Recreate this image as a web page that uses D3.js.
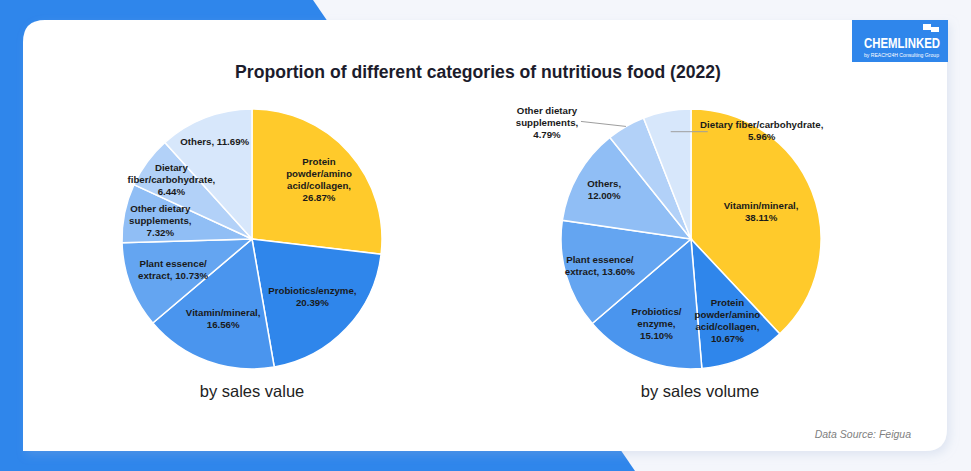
<!DOCTYPE html>
<html lang="en">
<head>
    <meta charset="UTF-8">
    <title>Nutritious food categories 2022</title>
    <script src="https://cdn.jsdelivr.net/npm/d3@7"></script>
    <style>
        body { margin: 0; background: #f4f6fb; }
        svg { display: block; font-family: "Liberation Sans", Arial, sans-serif; }
    </style>
</head>
<body>
<div id="chart"></div>

<script>
    // sales value pie (clockwise from 12 o'clock)
    var valueCategories = ['Protein powder/amino acid/collagen', 'Probiotics/enzyme', 'Vitamin/mineral',
        'Plant essence/extract', 'Other dietary supplements', 'Dietary fiber/carbohydrate', 'Others'];
    var valueShares = [26.87, 20.39, 16.56, 10.73, 7.32, 6.44, 11.69];
    var valueLabelLines = [
        ['Protein', 'powder/amino', 'acid/collagen,', '%v'],
        ['Probiotics/enzyme,', '%v'],
        ['Vitamin/mineral,', '%v'],
        ['Plant essence/', 'extract, %v'],
        ['Other dietary', 'supplements,', '%v'],
        ['Dietary', 'fiber/carbohydrate,', '%v'],
        ['Others, %v']
    ];

    // sales volume pie
    var volumeCategories = ['Vitamin/mineral', 'Protein powder/amino acid/collagen', 'Probiotics/enzyme',
        'Plant essence/extract', 'Others', 'Other dietary supplements', 'Dietary fiber/carbohydrate'];
    var volumeShares = [38.11, 10.67, 15.10, 13.60, 12.00, 4.79, 5.96];
    var volumeLabelLines = [
        ['Vitamin/mineral,', '%v'],
        ['Protein', 'powder/amino', 'acid/collagen,', '%v'],
        ['Probiotics/', 'enzyme,', '%v'],
        ['Plant essence/', 'extract, %v'],
        ['Others,', '%v'],
        ['Other dietary', 'supplements,', '%v'],
        ['Dietary fiber/carbohydrate,', '%v']
    ];

    // colours by slice order: yellow then blues getting lighter
    var sliceColors = ['#ffca2b', '#2f86eb', '#4a95ee', '#64a5f1', '#90bef5', '#b2d1f8', '#d7e7fb'];

    var width = 971, height = 471;
    var radius = 130;

    var svg = d3.select('#chart').append('svg')
        .attr('width', width)
        .attr('height', height);

    var defs = svg.append('defs');
    var shadow = defs.append('filter').attr('id', 'shadow')
        .attr('x', '-5%').attr('y', '-5%').attr('width', '110%').attr('height', '115%');
    shadow.append('feDropShadow')
        .attr('dx', 3).attr('dy', 4).attr('stdDeviation', 5)
        .attr('flood-color', '#9fb3d6').attr('flood-opacity', 0.25);

    // background
    svg.append('rect').attr('width', width).attr('height', height).attr('fill', '#f4f6fb');
    svg.append('path')
        .attr('d', 'M0,0 L313,0 L635,471 L0,471 Z')
        .attr('fill', '#2f86eb');

    // white card, rounded top-left and bottom-right
    var cx0 = 23, cy0 = 20, cx1 = 947, cy1 = 451, cr = 22;
    svg.append('path')
        .attr('d', 'M' + cx0 + ',' + (cy0 + cr) +
            ' Q' + cx0 + ',' + cy0 + ' ' + (cx0 + cr) + ',' + cy0 +
            ' L' + cx1 + ',' + cy0 +
            ' L' + cx1 + ',' + (cy1 - cr) +
            ' Q' + cx1 + ',' + cy1 + ' ' + (cx1 - cr) + ',' + cy1 +
            ' L' + cx0 + ',' + cy1 + ' Z')
        .attr('fill', '#ffffff')
        .attr('filter', 'url(#shadow)');

    // logo box
    var logo = svg.append('g');
    logo.append('rect').attr('x', 852).attr('y', 20).attr('width', 96).attr('height', 42).attr('fill', '#2f86eb');
    logo.append('rect').attr('x', 923).attr('y', 24).attr('width', 8).attr('height', 6).attr('fill', '#fff');
    logo.append('rect').attr('x', 931).attr('y', 27).attr('width', 8).attr('height', 5).attr('fill', '#fff');
    logo.append('text')
        .attr('x', 864).attr('y', 48)
        .attr('textLength', 76).attr('lengthAdjust', 'spacingAndGlyphs')
        .attr('font-size', 15).attr('font-weight', 'bold')
        .attr('fill', '#fff')
        .text('CHEMLINKED');
    logo.append('text')
        .attr('x', 864).attr('y', 57)
        .attr('textLength', 75).attr('lengthAdjust', 'spacingAndGlyphs')
        .attr('font-size', 5.5)
        .attr('fill', '#fff')
        .text('by REACH24H Consulting Group');

    // title
    svg.append('text')
        .attr('x', 478).attr('y', 78)
        .attr('text-anchor', 'middle')
        .attr('font-size', 17.6).attr('font-weight', 'bold')
        .attr('fill', '#1c1c2c')
        .text('Proportion of different categories of nutritious food (2022)');

    var pie = d3.pie().sort(null).value(function(d) { return d; });
    var arc = d3.arc().innerRadius(0).outerRadius(radius);

    function labelText(line, v) {
        return line.replace('%v', v.toFixed(2) + '%');
    }

    function drawPie(opts) {
        var g = svg.append('g').attr('transform', 'translate(' + opts.cx + ',' + opts.cy + ')');
        var arcs = pie(opts.values);

        g.selectAll('path.slice')
            .data(arcs)
            .join('path')
            .attr('class', 'slice')
            .attr('d', arc)
            .attr('fill', function(d, i) { return sliceColors[i]; })
            .attr('stroke', '#ffffff')
            .attr('stroke-width', 1.5);

        arcs.forEach(function(d, i) {
            var lines = opts.lines[i];
            var lh = 12;
            var out = opts.outside[i];
            var k, pos, anchorX, anchorY;
            if (out) {
                // label outside the slice with a thin leader line
                var start = d3.arc().innerRadius(radius * out.r).outerRadius(radius * out.r).centroid(d);
                var endX = start[0] + out.dx, endY = start[1] + out.dy;
                g.append('line')
                    .attr('x1', start[0]).attr('y1', start[1])
                    .attr('x2', endX).attr('y2', endY)
                    .attr('stroke', '#9e9e9e').attr('stroke-width', 1);
                anchorX = endX + out.tx;
                anchorY = endY + out.ty;
            } else {
                k = radius * opts.labelR[i];
                pos = d3.arc().innerRadius(k).outerRadius(k).centroid(d);
                anchorX = pos[0];
                anchorY = pos[1];
            }
            var t = g.append('text')
                .attr('text-anchor', 'middle')
                .attr('font-size', 9.7).attr('font-weight', 'bold')
                .attr('fill', '#1a1a1a');
            lines.forEach(function(line, j) {
                t.append('tspan')
                    .attr('x', anchorX)
                    .attr('y', anchorY + (j - (lines.length - 1) / 2) * lh + 3.5)
                    .text(labelText(line, opts.values[i]));
            });
        });

        svg.append('text')
            .attr('x', opts.captionX).attr('y', 397)
            .attr('text-anchor', 'middle')
            .attr('font-size', 16.5)
            .attr('fill', '#222')
            .text(opts.caption);
    }

    drawPie({
        cx: 252, cy: 239,
        values: valueShares,
        lines: valueLabelLines,
        labelR: [0.69, 0.64, 0.65, 0.65, 0.72, 0.77, 0.80],
        outside: [null, null, null, null, null, null, null],
        caption: 'by sales value',
        captionX: 252
    });

    drawPie({
        cx: 691, cy: 239,
        values: volumeShares,
        lines: volumeLabelLines,
        labelR: [0.58, 0.69, 0.70, 0.73, 0.77, 0, 0],
        outside: [null, null, null, null, null,
            { r: 1.0, dx: -45, dy: -5, tx: -34, ty: 1 },
            { r: 0.84, dx: 37, dy: 0, tx: 54, ty: -1 }],
        caption: 'by sales volume',
        captionX: 700
    });

    // source note
    svg.append('text')
        .attr('x', 911).attr('y', 438)
        .attr('text-anchor', 'end')
        .attr('font-size', 10.5).attr('font-style', 'italic')
        .attr('fill', '#808080')
        .text('Data Source: Feigua');
</script>
</body>
</html>
